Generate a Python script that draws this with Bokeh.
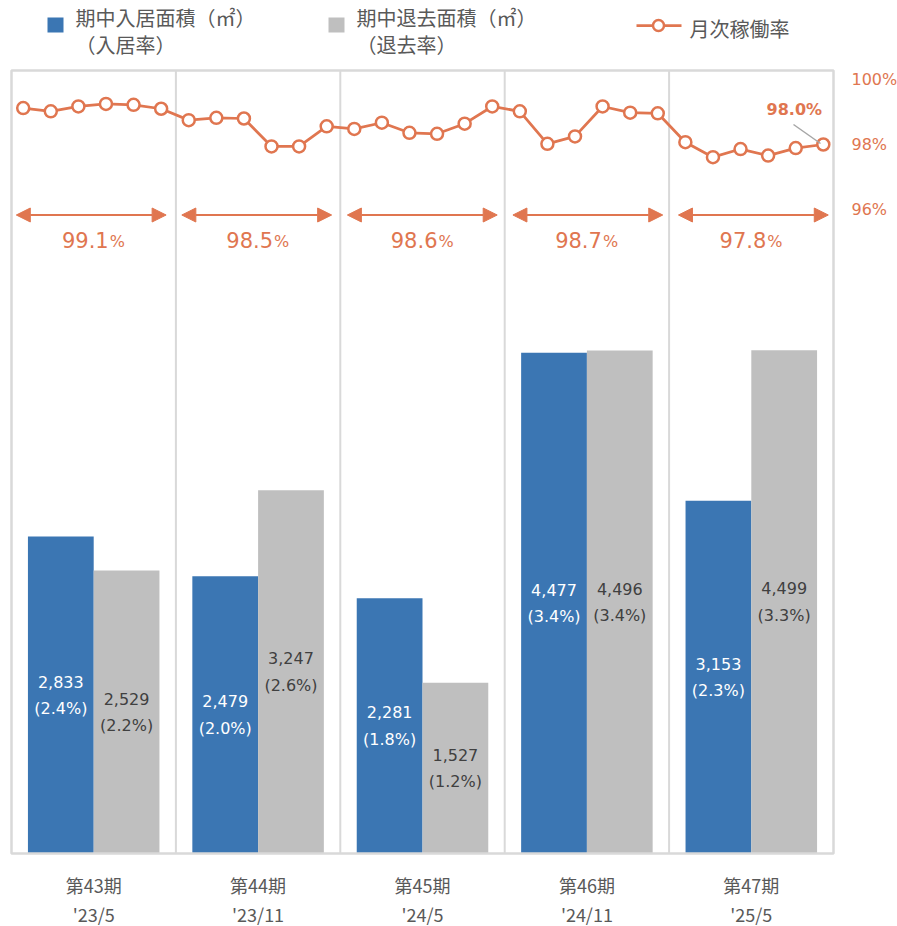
import numpy as np
from bokeh.plotting import figure
from bokeh.models import Range1d, ColumnDataSource, Arrow, NormalHead
from bokeh.core.properties import value
from bokeh.embed import file_html
from bokeh.resources import INLINE

# ---------------- data ----------------
periods = ["第43期", "第44期", "第45期", "第46期", "第47期"]
period_dates = ["'23/5", "'23/11", "'24/5", "'24/11", "'25/5"]
move_in_area = [2833, 2479, 2281, 4477, 3153]
move_in_rate = [2.4, 2.0, 1.8, 3.4, 2.3]
move_out_area = [2529, 3247, 1527, 4496, 4499]
move_out_rate = [2.2, 2.6, 1.2, 3.4, 3.3]
period_avg_occupancy = [99.1, 98.5, 98.6, 98.7, 97.8]
monthly_occupancy = [
    99.12, 99.02, 99.17, 99.25, 99.22, 99.10,
    98.75, 98.82, 98.80, 97.94, 97.94, 98.56,
    98.48, 98.67, 98.36, 98.33, 98.64, 99.17,
    99.02, 98.02, 98.25, 99.17, 98.98, 98.96,
    98.07, 97.61, 97.86, 97.66, 97.89, 98.00,
]
right_ticks = [96, 98, 100]
legend_labels = [["期中入居面積（㎡）", "（入居率）"], ["期中退去面積（㎡）", "（退去率）"], ["月次稼働率"]]

# ---------------- style ----------------
BLUE = "#3B76B3"
GRAY = "#BFBFBF"
ORANGE = "#E07650"
FRAME = "#D9D9D9"
TXT = "#595959"
JP = value("Noto Sans CJK JP")
LAT = value("DejaVu Sans")

# ---------------- layout (page pixels) ----------------
W, H = 897, 926
PL, PT = 0, 0
BOX_L, BOX_R, BOX_T, BOX_B = 11, 833, 70, 853
BAR_MAX = 7000
N = len(periods)
PW = (BOX_R - BOX_L) / N
LINE_X0, LINE_DX = 22.7, 27.59
OCC_REF, OCC_REF_Y, OCC_PX = 98.0, 144.0, 32.5

k = BAR_MAX / (BOX_B - BOX_T)
p = figure(
    width=W, height=H,
    x_range=Range1d((PL - BOX_L) / PW, (PL + W - BOX_L) / PW),
    y_range=Range1d(-(PT + H - BOX_B) * k, BAR_MAX + (BOX_T - PT) * k),
    x_axis_type=None, y_axis_type=None,
    toolbar_location=None, output_backend="svg",
    min_border=0, outline_line_color=None,
)
p.extra_x_ranges = {
    "line": Range1d((PL - LINE_X0) / LINE_DX, (PL + W - LINE_X0) / LINE_DX),
    "px": Range1d(PL, PL + W),
}
p.extra_y_ranges = {
    "line": Range1d(OCC_REF - (PT + H - OCC_REF_Y) / OCC_PX, OCC_REF + (OCC_REF_Y - PT) / OCC_PX),
    "px": Range1d(PT + H, PT),
}
p.grid.visible = False

idx = np.arange(N)

# panel separators
p.segment(x0=idx[1:], x1=idx[1:], y0=0, y1=BAR_MAX, line_color=FRAME, line_width=2)

# bars
src = ColumnDataSource(dict(
    x_in=idx + 0.3, x_out=idx + 0.7,
    a_in=move_in_area, a_out=move_out_area,
    m_in=[a / 2 for a in move_in_area], m_out=[a / 2 for a in move_out_area],
    t_in=[f"{a:,}" for a in move_in_area], t_out=[f"{a:,}" for a in move_out_area],
    r_in=[f"({r:.1f}%)" for r in move_in_rate], r_out=[f"({r:.1f}%)" for r in move_out_rate],
))
p.vbar(x="x_in", top="a_in", bottom=0, width=0.4, fill_color=BLUE, line_color=None, source=src)
p.vbar(x="x_out", top="a_out", bottom=0, width=0.4, fill_color=GRAY, line_color=None, source=src)

# chart box
p.quad(left=[0], right=[N], bottom=[0], top=[BAR_MAX], fill_color=None, line_color=FRAME, line_width=2.5)

lab = dict(text_align="center", text_baseline="middle", text_font=LAT, text_font_size="16px", source=src)
p.text(x="x_in", y="m_in", text="t_in", y_offset=-13.5, text_color="white", **lab)
p.text(x="x_in", y="m_in", text="r_in", y_offset=13.5, text_color="white", **lab)
p.text(x="x_out", y="m_out", text="t_out", y_offset=-13.5, text_color="#404040", **lab)
p.text(x="x_out", y="m_out", text="r_out", y_offset=13.5, text_color="#404040", **lab)

# period average arrows
asrc = ColumnDataSource(dict(
    xs=[6 * i - 0.25 for i in range(N)], xe=[6 * i + 5.18 for i in range(N)], y=[214.5] * N,
))
p.add_layout(Arrow(
    start=NormalHead(size=14, fill_color=ORANGE, line_color=ORANGE, line_width=1),
    end=NormalHead(size=14, fill_color=ORANGE, line_color=ORANGE, line_width=1),
    x_start="xs", y_start="y", x_end="xe", y_end="y", source=asrc,
    line_color=ORANGE, line_width=2, x_range_name="line", y_range_name="px",
))
p.text(x=idx + 0.5, y=[239] * N, text=[f"{v:.1f}" for v in period_avg_occupancy],
       y_range_name="px", x_offset=15, text_align="right", text_baseline="middle",
       text_font=LAT, text_font_size="21px", text_color=ORANGE)
p.text(x=idx + 0.5, y=[241] * N, text=["%"] * N,
       y_range_name="px", x_offset=16, text_align="left", text_baseline="middle",
       text_font=LAT, text_font_size="16px", text_color=ORANGE)

# monthly occupancy line
mx = list(range(len(monthly_occupancy)))
p.line(x=mx, y=monthly_occupancy, x_range_name="line", y_range_name="line",
       line_color=ORANGE, line_width=2.75)
p.scatter(x=mx, y=monthly_occupancy, x_range_name="line", y_range_name="line",
          marker="circle", size=12, fill_color="white", line_color=ORANGE, line_width=2.5)

# last value callout
p.segment(x0=[793], y0=[124], x1=[820], y1=[143], x_range_name="px", y_range_name="px",
          line_color="#A6A6A6", line_width=1.5)
p.text(x=[mx[-1]], y=[monthly_occupancy[-1]], text=[f"{monthly_occupancy[-1]:.1f}%"],
       x_range_name="line", y_range_name="line", x_offset=-29, y_offset=-35,
       text_align="center", text_baseline="middle", text_font=LAT, text_font_size="16px",
       text_font_style="bold", text_color=ORANGE)

# right axis labels
p.text(x=[851] * len(right_ticks), y=right_ticks, text=[f"{t}%" for t in right_ticks],
       x_range_name="px", y_range_name="line", text_align="left", text_baseline="middle",
       text_font=LAT, text_font_size="16px", text_color=ORANGE)

# category labels
p.text(x=idx + 0.5, y=[884] * N, text=periods, y_range_name="px",
       text_align="center", text_baseline="middle", text_font=JP, text_font_size="18px", text_color=TXT)
p.text(x=idx + 0.5, y=[913] * N, text=period_dates, y_range_name="px",
       text_align="center", text_baseline="middle", text_font=JP, text_font_size="18px", text_color=TXT)

# legend
p.quad(left=[47, 328], right=[63, 344], top=[17, 17], bottom=[32, 32],
       fill_color=[BLUE, GRAY], line_color=None, x_range_name="px", y_range_name="px")
leg = dict(x_range_name="px", y_range_name="px", text_align="left", text_baseline="middle",
           text_font=JP, text_font_size="20px", text_color=TXT)
p.text(x=[75, 75], y=[17, 44], text=legend_labels[0], **leg)
p.text(x=[356, 356], y=[17, 44], text=legend_labels[1], **leg)
p.segment(x0=[636], y0=[25], x1=[681], y1=[25], x_range_name="px", y_range_name="px",
          line_color=ORANGE, line_width=2.75)
p.scatter(x=[658], y=[25], x_range_name="px", y_range_name="px", marker="circle", size=11,
          fill_color="white", line_color=ORANGE, line_width=2.5)
p.text(x=[689], y=[28], text=legend_labels[2], **leg)

open("out.html", "w").write(file_html(p, INLINE))
